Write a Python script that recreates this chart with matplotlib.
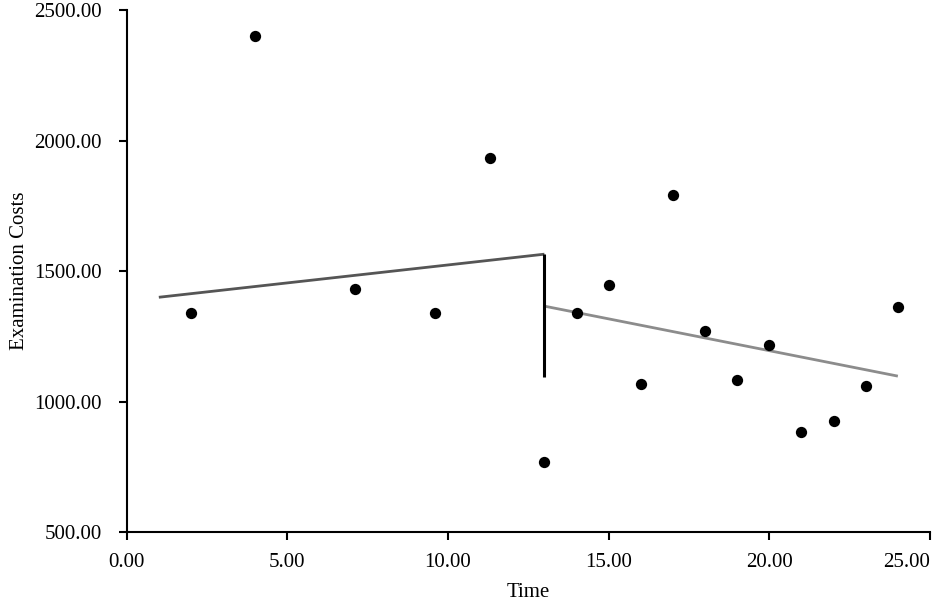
import matplotlib
matplotlib.use("Agg")
import matplotlib.pyplot as plt

# Observed data
time_pre = [2.0, 4.0, 7.1, 9.6, 11.3, 13.0]
cost_pre = [1341, 2400, 1431, 1341, 1932, 770]
time_post = [14.0, 15.0, 16.0, 17.0, 18.0, 19.0, 20.0, 21.0, 22.0, 23.0, 24.0]
cost_post = [1341, 1446, 1068, 1790, 1270, 1082, 1218, 885, 925, 1061, 1361]

# Fitted segments
pre_fit_x = [1.0, 13.0]
pre_fit_y = [1400, 1565]
post_fit_x = [13.0, 24.0]
post_fit_y = [1366, 1098]
break_x = [13.0, 13.0]
break_y = [1565, 1095]

xticks = [0, 5, 10, 15, 20, 25]
yticks = [500, 1000, 1500, 2000, 2500]

plt.rcParams['font.family'] = ['Liberation Serif', 'DejaVu Serif']

fig = plt.figure(figsize=(9.35, 6.01), dpi=100)
ax = fig.add_axes([126.7/935, 1-532.3/601, (930-126.7)/935, (532.3-10)/601])

ax.plot(pre_fit_x, pre_fit_y, color='#555555', lw=2.0, solid_capstyle='butt', zorder=2)
ax.plot(post_fit_x, post_fit_y, color='#8c8c8c', lw=2.0, solid_capstyle='butt', zorder=2)
ax.plot(break_x, break_y, color='black', lw=2.2, solid_capstyle='butt', zorder=3)

ax.scatter(time_pre + time_post, cost_pre + cost_post, s=66, color='black', zorder=4, linewidths=0)

ax.set_xlim(0, 25)
ax.set_ylim(500, 2500)
ax.set_xticks(xticks)
ax.set_yticks(yticks)
ax.set_xticklabels([f"{v:.2f}" for v in xticks])
ax.set_yticklabels([f"{v:.2f}" for v in yticks])
ax.get_xticklabels()[-1].set_horizontalalignment('right')

for s in ['top', 'right']:
    ax.spines[s].set_visible(False)
for s in ['left', 'bottom']:
    ax.spines[s].set_linewidth(1.5)
    ax.spines[s].set_color('black')

ax.tick_params(axis='both', direction='out', length=6, width=1.5, labelsize=15, colors='black')
ax.tick_params(axis='x', pad=9)
ax.tick_params(axis='y', pad=12)

ax.set_xlabel('Time', fontsize=15, labelpad=8)
ax.set_ylabel('Examination Costs', fontsize=15, labelpad=4)

fig.savefig('out.png', dpi=100, facecolor='white')
